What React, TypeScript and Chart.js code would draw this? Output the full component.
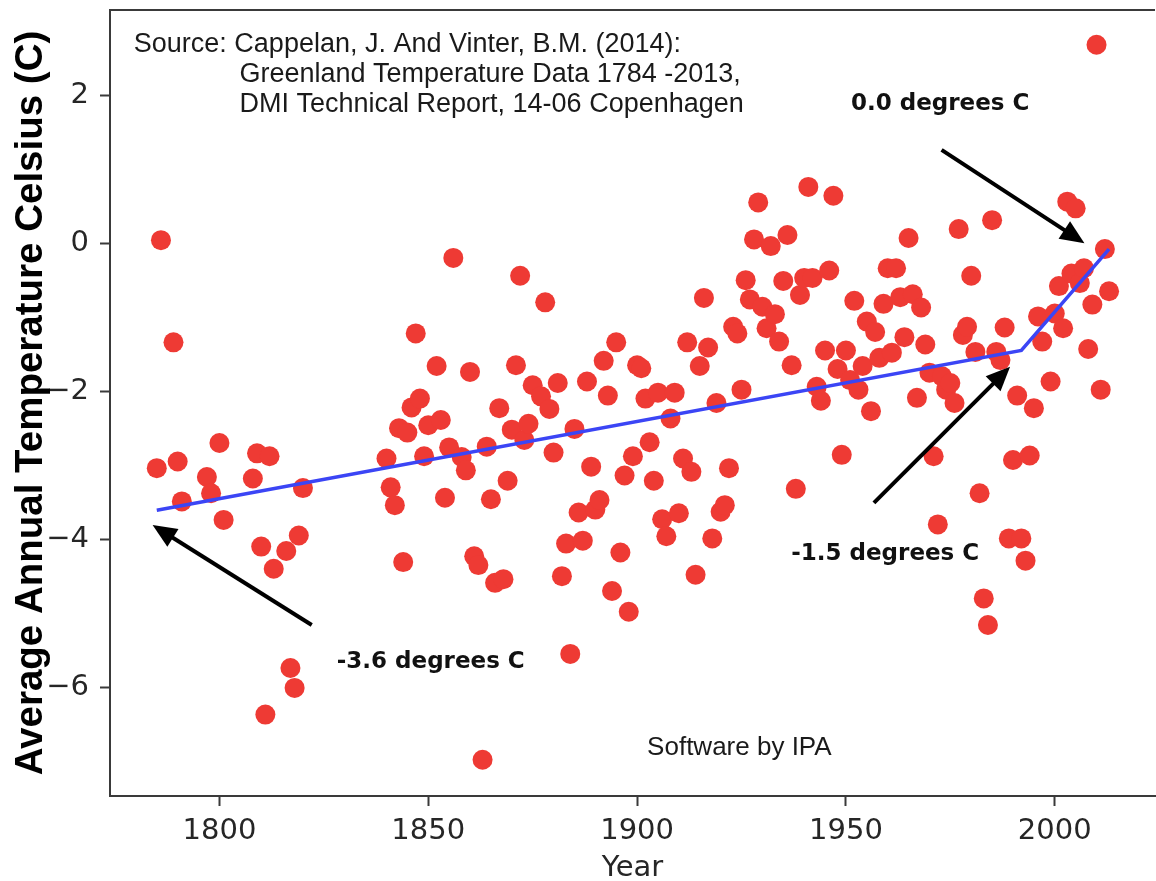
import React, { useEffect, useRef } from 'react';
import { Chart, registerables } from 'chart.js';

Chart.register(...registerables);

// ---------- data ----------
const YEARS = [
  1785, 1786, 1789, 1790, 1791, 1797, 1798, 1800, 1801, 1808, 1809, 1810, 1811, 1812, 1813, 1816, 1817, 1818, 1819, 1820,
  1840, 1841, 1842, 1843, 1844, 1845, 1846, 1847, 1848, 1849, 1850, 1852, 1853, 1854, 1855, 1856, 1858, 1859, 1860,
  1861, 1862, 1863, 1864, 1865, 1866, 1867, 1868, 1869, 1870, 1871, 1872, 1873, 1874, 1875, 1877, 1878, 1879, 1880,
  1881, 1882, 1883, 1884, 1885, 1886, 1887, 1888, 1889, 1890, 1891, 1892, 1893, 1894, 1895, 1896, 1897, 1898, 1899, 1900,
  1901, 1902, 1903, 1904, 1905, 1906, 1907, 1908, 1909, 1910, 1911, 1912, 1913, 1914, 1915, 1916, 1917, 1918, 1919, 1920,
  1921, 1922, 1923, 1924, 1925, 1926, 1927, 1928, 1929, 1930, 1931, 1932, 1933, 1934, 1935, 1936, 1937, 1938, 1939, 1940,
  1941, 1942, 1943, 1944, 1945, 1946, 1947, 1948, 1949, 1950, 1951, 1952, 1953, 1954, 1955, 1956, 1957, 1958, 1959, 1960,
  1961, 1962, 1963, 1964, 1965, 1966, 1967, 1968, 1969, 1970, 1971, 1972, 1973, 1974, 1975, 1976, 1977, 1978, 1979, 1980,
  1981, 1982, 1983, 1984, 1985, 1986, 1987, 1988, 1989, 1990, 1991, 1992, 1993, 1994, 1995, 1996, 1997, 1999, 2000,
  2001, 2002, 2003, 2004, 2005, 2006, 2007, 2008, 2009, 2010, 2011, 2012, 2013,
];

const TEMPS = [
  -3.03, 0.05, -1.33, -2.94, -3.48, -3.15, -3.37, -2.69, -3.73, -3.17, -2.83, -4.09, -6.36, -2.87, -4.39, -4.15, -5.73, -6.0, -3.94, -3.3,
  -2.9, -3.29, -3.53, -2.49, -4.3, -2.55, -2.21, -1.21, -2.09, -2.87, -2.45, -1.65, -2.38, -3.43, -2.75, -0.19, -2.88, -3.06, -1.73,
  -4.22, -4.34, -6.97, -2.74, -3.45, -4.58, -2.22, -4.53, -3.2, -2.51, -1.64, -0.43, -2.65, -2.43, -1.91, -2.06, -0.79, -2.23, -2.82,
  -1.88, -4.49, -4.05, -5.54, -2.5, -3.63, -4.01, -1.86, -3.01, -3.59, -3.46, -1.58, -2.05, -4.69, -1.33, -4.17, -3.13, -4.97, -2.87, -1.64,
  -1.68, -2.09, -2.68, -3.2, -2.01, -3.72, -3.95, -2.36, -2.01, -3.64, -2.9, -1.33, -3.08, -4.47, -1.65, -0.73, -1.4, -3.98, -2.15, -3.62,
  -3.53, -3.03, -1.12, -1.21, -1.97, -0.49, -0.75, 0.06, 0.56, -0.85, -1.14, -0.03, -0.95, -1.32, -0.5, 0.12, -1.64, -3.31, -0.69, -0.46,
  0.77, -0.46, -1.93, -2.12, -1.44, -0.36, 0.65, -1.69, -2.85, -1.44, -1.84, -0.77, -1.97, -1.65, -1.05, -2.26, -1.19, -1.54, -0.81, -0.33,
  -1.47, -0.33, -0.72, -1.26, 0.08, -0.68, -2.08, -0.86, -1.36, -1.74, -2.87, -3.79, -1.79, -1.97, -1.88, -2.15, 0.2, -1.23, -1.12, -0.43,
  -1.46, -3.37, -4.79, -5.15, 0.32, -1.46, -1.57, -1.13, -3.98, -2.92, -2.05, -3.98, -4.28, -2.86, -2.22, -0.98, -1.32, -1.86, -0.94,
  -0.57, -1.14, 0.57, -0.4, 0.48, -0.53, -0.33, -1.42, -0.82, 2.69, -1.97, -0.07, -0.64,
];

const TREND_YEARS = [1785, 1992, 2013];
const TREND_TEMPS = [-3.6, -1.44, -0.07];

const X_TICKS = [1800, 1850, 1900, 1950, 2000];
const Y_TICKS = [-6, -4, -2, 0, 2];
const X_MIN = 1773.8;
const X_MAX = 2024;
const Y_MIN = -7.46;
const Y_MAX = 3.16;

const X_TITLE = 'Year';
const Y_TITLE = 'Average Annual Temperature Celsius (C)';

const SOURCE_LINES = [
  'Source: Cappelan, J. And Vinter, B.M. (2014):',
  'Greenland Temperature Data 1784 -2013,',
  'DMI Technical Report, 14-06 Copenhagen',
];
const SOURCE_X = [1779.5, 1804.8, 1804.8];
const SOURCE_Y = [2.595, 2.19, 1.78];

const NOTE_TEXTS = ['-3.6 degrees C', '-1.5 degrees C', '0.0 degrees C'];
const NOTE_X = [1828.1, 1936.9, 1951.2];
const NOTE_Y = [-5.73, -4.27, 1.81];

const ARROW_FROM_X = [1822.1, 1956.7, 1972.9];
const ARROW_FROM_Y = [-5.15, -3.5, 1.27];
const ARROW_TO_X = [1784.0, 1989.3, 2007.1];
const ARROW_TO_Y = [-3.8, -1.66, 0.01];

const CREDIT_TEXT = 'Software by IPA';
const CREDIT_X = 1902.4;
const CREDIT_Y = -6.905;

// ---------- styles ----------
const RED = '#ee3a34';
const BLUE = '#3b45f5';
const SPINE = '#3a3a3a';
const TEXT = '#262626';
const TICK_FONT = '"DejaVu Sans"';

function drawArrow(ctx: CanvasRenderingContext2D, x1: number, y1: number, x2: number, y2: number) {
  const ang = Math.atan2(y2 - y1, x2 - x1);
  const L = 24;
  const W = 10.5;
  const c = Math.cos(ang);
  const s = Math.sin(ang);
  const bx = x2 - L * c;
  const by = y2 - L * s;
  ctx.strokeStyle = '#000';
  ctx.fillStyle = '#000';
  ctx.lineWidth = 4;
  ctx.lineCap = 'butt';
  ctx.beginPath();
  ctx.moveTo(x1, y1);
  ctx.lineTo(bx + 2 * c, by + 2 * s);
  ctx.stroke();
  ctx.beginPath();
  ctx.moveTo(x2, y2);
  ctx.lineTo(bx - W * s, by + W * c);
  ctx.lineTo(bx + W * s, by - W * c);
  ctx.closePath();
  ctx.fill();
}

const overlayPlugin = {
  id: 'overlay',
  afterDraw(chart: any) {
    const ctx: CanvasRenderingContext2D = chart.ctx;
    const { left, top, right, bottom } = chart.chartArea;
    const xs = chart.scales.x;
    const ys = chart.scales.y;
    ctx.save();

    // top spine
    ctx.strokeStyle = SPINE;
    ctx.lineWidth = 2;
    ctx.beginPath();
    ctx.moveTo(left - 1, top);
    ctx.lineTo(right, top);
    ctx.stroke();

    // arrows
    for (let i = 0; i < ARROW_FROM_X.length; i++) {
      drawArrow(
        ctx,
        xs.getPixelForValue(ARROW_FROM_X[i]),
        ys.getPixelForValue(ARROW_FROM_Y[i]),
        xs.getPixelForValue(ARROW_TO_X[i]),
        ys.getPixelForValue(ARROW_TO_Y[i])
      );
    }

    // bold notes
    ctx.fillStyle = '#111';
    ctx.textAlign = 'left';
    ctx.textBaseline = 'alphabetic';
    ctx.font = 'bold 23px "DejaVu Sans"';
    for (let i = 0; i < NOTE_TEXTS.length; i++) {
      ctx.fillText(NOTE_TEXTS[i], xs.getPixelForValue(NOTE_X[i]), ys.getPixelForValue(NOTE_Y[i]));
    }

    // source
    ctx.fillStyle = '#1a1a1a';
    ctx.font = '27px "Liberation Sans"';
    for (let i = 0; i < SOURCE_LINES.length; i++) {
      ctx.fillText(SOURCE_LINES[i], xs.getPixelForValue(SOURCE_X[i]), ys.getPixelForValue(SOURCE_Y[i]));
    }

    // credit
    ctx.font = '26px "Liberation Sans"';
    ctx.fillText(CREDIT_TEXT, xs.getPixelForValue(CREDIT_X), ys.getPixelForValue(CREDIT_Y));

    // axis titles
    ctx.fillStyle = '#000';
    ctx.font = 'bold 38.5px "Liberation Sans"';
    ctx.textAlign = 'center';
    ctx.save();
    ctx.translate(42, (top + bottom) / 2);
    ctx.rotate(-Math.PI / 2);
    ctx.fillText(Y_TITLE, 0, 0);
    ctx.restore();

    ctx.fillStyle = TEXT;
    ctx.font = '29px ' + TICK_FONT;
    ctx.fillText(X_TITLE, (left + right) / 2, 876);

    ctx.restore();
  },
};

const fmtMinus = (v: number) => (v < 0 ? '\u2212' + Math.abs(v) : String(v));

export default function App() {
  const canvasRef = useRef<HTMLCanvasElement | null>(null);

  useEffect(() => {
    if (!canvasRef.current) return;
    const points = YEARS.map((y, i) => ({ x: y, y: TEMPS[i] }));
    const trend = TREND_YEARS.map((y, i) => ({ x: y, y: TREND_TEMPS[i] }));

    const chart = new Chart(canvasRef.current, {
      type: 'scatter',
      data: {
        datasets: [
          {
            data: trend,
            showLine: true,
            borderColor: BLUE,
            borderWidth: 3.5,
            pointRadius: 0,
            fill: false,
            order: 0,
          } as any,
          {
            data: points,
            backgroundColor: RED,
            borderWidth: 0,
            pointRadius: 10,
            pointHoverRadius: 10,
            order: 1,
          } as any,
        ],
      },
      options: {
        animation: false,
        responsive: false,
        events: [],
        layout: { padding: { left: 0, top: 10, right: 4, bottom: 0 } },
        plugins: { legend: { display: false }, tooltip: { enabled: false } },
        scales: {
          x: {
            type: 'linear',
            min: X_MIN,
            max: X_MAX,
            afterBuildTicks: (scale: any) => {
              scale.ticks = X_TICKS.map((v) => ({ value: v }));
            },
            afterFit: (scale: any) => {
              scale.height = 85;
              scale.paddingLeft = 0;
              scale.paddingRight = 0;
            },
            ticks: {
              callback: (v: any) => String(v),
              color: TEXT,
              font: { family: TICK_FONT, size: 29 },
              padding: 8,
              maxRotation: 0,
              autoSkip: false,
            },
            grid: { display: true, drawOnChartArea: false, drawTicks: true, tickLength: 10, tickColor: SPINE, tickWidth: 2 },
            border: { display: true, color: SPINE, width: 2 },
            title: { display: false },
          },
          y: {
            type: 'linear',
            min: Y_MIN,
            max: Y_MAX,
            afterBuildTicks: (scale: any) => {
              scale.ticks = Y_TICKS.map((v) => ({ value: v }));
            },
            afterFit: (scale: any) => {
              scale.width = 110;
              scale.paddingTop = 0;
              scale.paddingBottom = 0;
            },
            ticks: {
              callback: (v: any) => fmtMinus(Number(v)),
              color: TEXT,
              font: { family: TICK_FONT, size: 29 },
              padding: 11,
              autoSkip: false,
            },
            grid: { display: true, drawOnChartArea: false, drawTicks: true, tickLength: 10, tickColor: SPINE, tickWidth: 2 },
            border: { display: true, color: SPINE, width: 2 },
            title: { display: false },
          },
        },
      } as any,
      plugins: [overlayPlugin],
    });
    return () => chart.destroy();
  }, []);

  return (
    <div style={{ position: 'absolute', left: 0, top: 0, width: 1156, height: 881, overflow: 'hidden', background: '#fff' }}>
      <canvas ref={canvasRef} width={1165} height={881} style={{ width: 1165, height: 881, display: 'block' }} />
    </div>
  );
}
